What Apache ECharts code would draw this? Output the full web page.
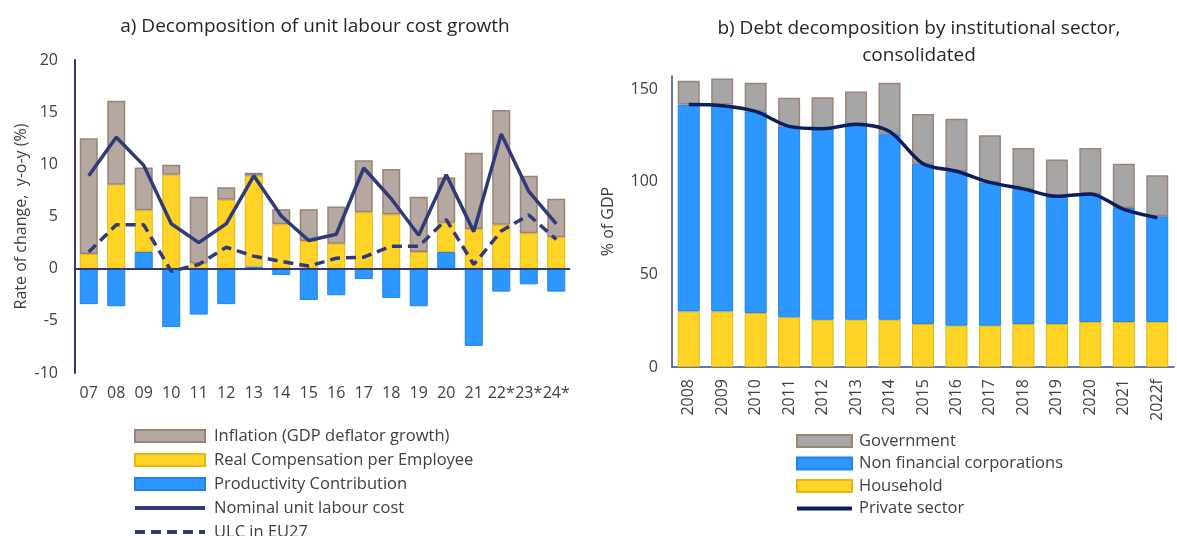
<!DOCTYPE html>
<html>
<head>
<meta charset="utf-8">
<script src="https://cdn.jsdelivr.net/npm/echarts@6/dist/echarts.min.js"></script>
<style>
  html, body { margin: 0; padding: 0; background: #fff; }
  #ch { width: 1177px; height: 536px; }
</style>
</head>
<body>
<div id="ch"></div>
<script>
// a) unit labour cost decomposition
var ulcYears = ['07','08','09','10','11','12','13','14','15','16','17','18','19','20','21','22*','23*','24*'];
var productivity = [-3.4, -3.6, 1.6, -5.6, -4.4, -3.4, 0.2, -0.6, -3.0, -2.55, -1.0, -2.8, -3.6, 1.6, -7.4, -2.2, -1.5, -2.2];
var realComp = [1.4, 8.05, 4.0, 9.0, 0.5, 6.6, 8.7, 4.25, 2.65, 2.4, 5.4, 5.2, 1.6, 2.8, 3.8, 4.2, 3.4, 3.0];
var inflation = [11.1, 8.05, 4.1, 0.95, 6.4, 1.2, 0.3, 1.45, 3.05, 3.55, 5.0, 4.35, 5.3, 4.35, 7.3, 11.0, 5.5, 3.7];
var nominalUlc = [8.9, 12.6, 9.9, 4.3, 2.5, 4.3, 8.9, 5.05, 2.7, 3.3, 9.65, 6.7, 3.2, 9.0, 3.55, 12.9, 7.4, 4.3];
var ulcEu27 = [1.6, 4.2, 4.2, -0.25, 0.4, 2.05, 1.2, 0.7, 0.25, 1.0, 1.1, 2.15, 2.15, 4.7, 0.4, 3.6, 5.15, 2.8];

// b) debt by institutional sector
var debtYears = ['2008','2009','2010','2011','2012','2013','2014','2015','2016','2017','2018','2019','2020','2021','2022f'];
var household = [30.0, 30.0, 29.1, 26.8, 25.5, 25.5, 25.5, 23.2, 22.3, 22.3, 23.2, 23.2, 24.3, 24.3, 24.3];
var nonFinCorp = [111.6, 111.6, 108.8, 103.0, 103.1, 104.7, 100.4, 86.5, 83.3, 77.3, 72.9, 68.5, 69.1, 61.5, 57.0];
var government = [12.9, 14.0, 15.4, 15.4, 16.9, 18.5, 27.4, 26.8, 28.4, 25.4, 22.1, 20.2, 24.8, 23.8, 22.1];
var privateSector = [141.6, 141.0, 137.9, 129.8, 128.6, 131.0, 127.1, 109.7, 105.6, 99.6, 96.1, 92.1, 93.4, 85.0, 80.5];

var font = 'Open Sans';
var txt = '#404040';
var navy = '#2f3a78';

window.onload = function() {
  var ch = echarts.init(document.getElementById('ch'));
  var op = {
    animation: false,
    textStyle: { fontFamily: font },
    title: [{
      text: 'a) Decomposition of unit labour cost growth',
      left: 310, top: 12, textAlign: 'center',
      textStyle: { fontFamily: font, fontSize: 19, fontWeight: 'normal', color: '#262626' }
    }, {
      text: 'b) Debt decomposition by institutional sector,\nconsolidated',
      left: 914, top: 10, textAlign: 'center',
      textStyle: { fontFamily: font, fontSize: 19, fontWeight: 'normal', color: '#262626', lineHeight: 27 }
    }],
    legend: [{
      orient: 'vertical', left: 128, top: 422, height: 140,
      itemWidth: 70, itemHeight: 12, itemGap: 6,
      textStyle: { fontFamily: font, fontSize: 16.5, color: txt, lineHeight: 18, padding: [0, 0, 0, 4] },
      data: [
        { name: 'Inflation (GDP deflator growth)', icon: 'rect' },
        { name: 'Real Compensation per Employee', icon: 'rect' },
        { name: 'Productivity Contribution', icon: 'rect' },
        { name: 'Nominal unit labour cost', itemStyle: { opacity: 0 }, lineStyle: { width: 4 } },
        { name: 'ULC in EU27', itemStyle: { opacity: 0 }, lineStyle: { width: 4 } }
      ]
    }, {
      orient: 'vertical', left: 790, top: 427, height: 140,
      itemWidth: 55, itemHeight: 12, itemGap: 4.5,
      textStyle: { fontFamily: font, fontSize: 16.5, color: txt, lineHeight: 18, padding: [0, 0, 0, 2] },
      data: [
        { name: 'Government', icon: 'rect' },
        { name: 'Non financial corporations', icon: 'rect' },
        { name: 'Household', icon: 'rect' },
        { name: 'Private sector', itemStyle: { opacity: 0 }, lineStyle: { width: 4 } }
      ]
    }],
    grid: [
      { left: 75, top: 60, width: 495, height: 313 },
      { left: 672, top: 76, width: 502, height: 291 }
    ],
    xAxis: [{
      type: 'category', gridIndex: 0, data: ulcYears,
      axisLine: { show: false, onZero: false },
      axisTick: { show: false },
      axisLabel: { interval: 0, fontSize: 16, color: txt, margin: 12 }
    }, {
      type: 'category', gridIndex: 1, data: debtYears,
      axisLine: { lineStyle: { color: '#2f4a8a', width: 1.5 } },
      axisTick: { show: false },
      axisLabel: { interval: 0, rotate: 90, fontSize: 16, color: txt, margin: 12 }
    }],
    yAxis: [{
      type: 'value', gridIndex: 0, min: -10, max: 20, interval: 5,
      name: 'Rate of change,  y-o-y (%)', nameLocation: 'middle', nameGap: 46,
      nameTextStyle: { fontFamily: font, fontSize: 16, color: txt },
      axisLine: { show: true, lineStyle: { color: navy, width: 2 } },
      axisTick: { show: false },
      splitLine: { show: false },
      axisLabel: { fontSize: 16, color: txt, margin: 17 }
    }, {
      type: 'value', gridIndex: 1, min: 0, max: 157, interval: 50,
      name: '% of GDP', nameLocation: 'middle', nameGap: 56,
      nameTextStyle: { fontFamily: font, fontSize: 16, color: txt },
      axisLine: { show: true, lineStyle: { color: '#2f4a8a', width: 1.5 } },
      axisTick: { show: false },
      splitLine: { show: false },
      axisLabel: { fontSize: 16, color: txt, margin: 14 }
    }],
    series: [{
      name: 'Productivity Contribution', type: 'bar', stack: 'a',
      xAxisIndex: 0, yAxisIndex: 0, barWidth: 18, data: productivity,
      itemStyle: { color: '#2e96ff', borderColor: '#1f82e6', borderWidth: 1 },
      markLine: {
        silent: true, symbol: 'none', label: { show: false },
        lineStyle: { color: navy, width: 2, type: 'solid' },
        data: [{ yAxis: 0 }]
      }
    }, {
      name: 'Real Compensation per Employee', type: 'bar', stack: 'a',
      xAxisIndex: 0, yAxisIndex: 0, barWidth: 18, data: realComp,
      itemStyle: { color: '#ffd426', borderColor: '#e2b80c', borderWidth: 1 }
    }, {
      name: 'Inflation (GDP deflator growth)', type: 'bar', stack: 'a',
      xAxisIndex: 0, yAxisIndex: 0, barWidth: 18, data: inflation,
      itemStyle: { color: '#b5a8a0', borderColor: '#98827a', borderWidth: 1.5 }
    }, {
      name: 'Nominal unit labour cost', type: 'line',
      xAxisIndex: 0, yAxisIndex: 0, data: nominalUlc,
      symbol: 'none', z: 5,
      lineStyle: { color: navy, width: 3.5 },
      itemStyle: { color: navy }
    }, {
      name: 'ULC in EU27', type: 'line',
      xAxisIndex: 0, yAxisIndex: 0, data: ulcEu27,
      symbol: 'none', z: 5,
      lineStyle: { color: navy, width: 3.5, type: [10, 6] },
      itemStyle: { color: navy }
    }, {
      name: 'Household', type: 'bar', stack: 'b',
      xAxisIndex: 1, yAxisIndex: 1, barWidth: 22, data: household,
      itemStyle: { color: '#ffd426', borderColor: '#e2b80c', borderWidth: 1 }
    }, {
      name: 'Non financial corporations', type: 'bar', stack: 'b',
      xAxisIndex: 1, yAxisIndex: 1, barWidth: 22, data: nonFinCorp,
      itemStyle: { color: '#2e96ff', borderColor: '#1f82e6', borderWidth: 1 }
    }, {
      name: 'Government', type: 'bar', stack: 'b',
      xAxisIndex: 1, yAxisIndex: 1, barWidth: 22, data: government,
      itemStyle: { color: '#a6a6a6', borderColor: '#9c8478', borderWidth: 1.5 }
    }, {
      name: 'Private sector', type: 'line',
      xAxisIndex: 1, yAxisIndex: 1, data: privateSector,
      symbol: 'none', smooth: 0.3, z: 5,
      lineStyle: { color: '#0b1f5e', width: 3.5 },
      itemStyle: { color: '#0b1f5e' }
    }]
  };
  ch.setOption(op);
};
</script>
</body>
</html>
